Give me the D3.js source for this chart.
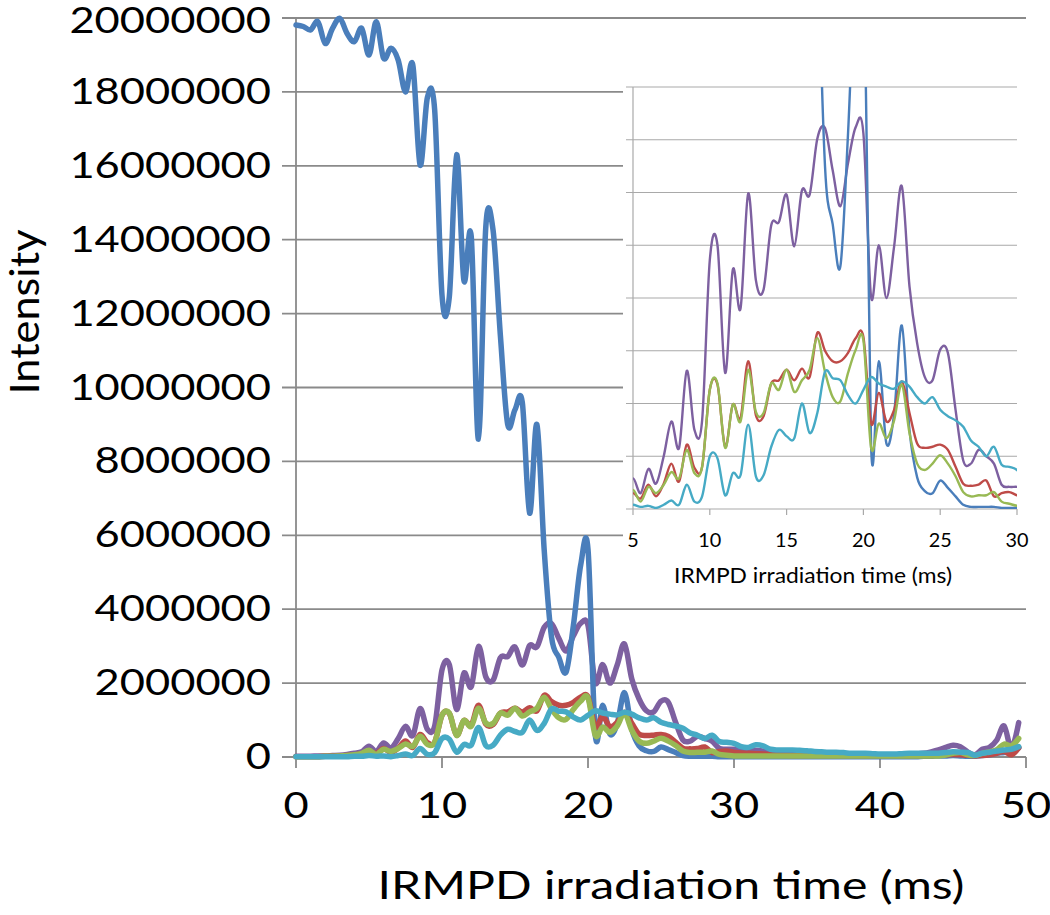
<!DOCTYPE html>
<html>
<head>
<meta charset="utf-8">
<script src="https://cdn.jsdelivr.net/npm/d3@7"></script>
<style>
  body { margin: 0; background: #fff; }
  text { font-family: Lato, "Open Sans", sans-serif; fill: #000; }
</style>
</head>
<body>
<div id="chart"></div>
<script>
// irradiation time (ms), one sample every 0.5 ms
const times = [
  0, 0.5, 1, 1.5, 2, 2.5, 3, 3.5, 4, 4.5,
  5, 5.5, 6, 6.5, 7, 7.5, 8, 8.5, 9, 9.5,
  10, 10.5, 11, 11.5, 12, 12.5, 13, 13.5, 14, 14.5,
  15, 15.5, 16, 16.5, 17, 17.5, 18, 18.5, 19, 19.5,
  20, 20.5, 21, 21.5, 22, 22.5, 23, 23.5, 24, 24.5,
  25, 25.5, 26, 26.5, 27, 27.5, 28, 28.5, 29, 29.5,
  30, 30.5, 31, 31.5, 32, 32.5, 33, 33.5, 34, 34.5,
  35, 35.5, 36, 36.5, 37, 37.5, 38, 38.5, 39, 39.5,
  40, 40.5, 41, 41.5, 42, 42.5, 43, 43.5, 44, 44.5,
  45, 45.5, 46, 46.5, 47, 47.5, 48, 48.5, 49, 49.5
];

// intensities, in millions
const blueSeries = [
  19.81, 19.77, 19.68, 19.90, 19.31, 19.72, 19.99, 19.58, 19.36, 19.72,
  19.00, 19.90, 18.91, 19.18, 18.86, 18.00, 18.73, 16.02, 17.85, 17.50,
  12.50, 12.45, 16.30, 12.90, 14.10, 8.60, 14.35, 14.25, 11.40, 9.00,
  9.40, 9.60, 6.60, 9.00, 5.60, 3.25, 2.70, 2.30, 3.56, 5.20,
  5.62, 0.60, 1.40, 0.62, 0.90, 1.74, 0.75, 0.30, 0.17, 0.15,
  0.27, 0.20, 0.12, 0.04, 0.02, 0.02, 0.02, 0.02, 0.01, 0.01,
  0.01, 0.01, 0.01, 0.01, 0.01, 0.01, 0.01, 0.01, 0.01, 0.01,
  0.01, 0.01, 0.01, 0.01, 0.01, 0.01, 0.01, 0.01, 0.01, 0.01,
  0.01, 0.01, 0.01, 0.01, 0.01, 0.01, 0.02, 0.02, 0.03, 0.03,
  0.04, 0.03, 0.02, 0.02, 0.04, 0.06, 0.10, 0.12, 0.15, 0.25
];
const redSeries = [
  0.01, 0.01, 0.01, 0.01, 0.02, 0.02, 0.03, 0.04, 0.06, 0.09,
  0.15, 0.10, 0.23, 0.12, 0.24, 0.43, 0.26, 0.61, 0.39, 0.40,
  1.13, 1.18, 0.59, 0.99, 0.86, 1.40, 0.89, 0.88, 1.19, 1.22,
  1.32, 1.22, 1.33, 1.25, 1.67, 1.50, 1.40, 1.40, 1.48, 1.62,
  1.63, 0.81, 1.10, 0.83, 0.94, 1.21, 0.91, 0.62, 0.58, 0.59,
  0.61, 0.56, 0.40, 0.24, 0.22, 0.23, 0.27, 0.12, 0.15, 0.16,
  0.13, 0.11, 0.10, 0.09, 0.08, 0.07, 0.06, 0.05, 0.04, 0.04,
  0.04, 0.04, 0.04, 0.04, 0.04, 0.04, 0.04, 0.04, 0.04, 0.04,
  0.04, 0.04, 0.04, 0.04, 0.04, 0.04, 0.04, 0.04, 0.05, 0.06,
  0.07, 0.06, 0.05, 0.03, 0.04, 0.06, 0.10, 0.15, 0.06, 0.25
];
const greenSeries = [
  0.01, 0.01, 0.01, 0.01, 0.02, 0.02, 0.03, 0.04, 0.06, 0.10,
  0.18, 0.07, 0.21, 0.15, 0.23, 0.35, 0.29, 0.56, 0.34, 0.40,
  1.13, 1.19, 0.58, 0.99, 0.83, 1.32, 0.92, 0.91, 1.19, 1.13,
  1.32, 1.11, 1.22, 1.32, 1.62, 1.30, 1.06, 1.02, 1.29, 1.51,
  1.60, 0.58, 0.81, 0.67, 0.84, 1.18, 0.72, 0.43, 0.37, 0.43,
  0.51, 0.43, 0.31, 0.16, 0.12, 0.13, 0.13, 0.16, 0.07, 0.05,
  0.03, 0.03, 0.03, 0.03, 0.03, 0.03, 0.03, 0.03, 0.03, 0.03,
  0.03, 0.03, 0.03, 0.03, 0.03, 0.03, 0.03, 0.03, 0.03, 0.03,
  0.03, 0.03, 0.03, 0.03, 0.03, 0.03, 0.03, 0.03, 0.03, 0.05,
  0.10, 0.12, 0.06, 0.04, 0.10, 0.14, 0.20, 0.35, 0.30, 0.50
];
const purpleSeries = [
  0.02, 0.02, 0.02, 0.03, 0.03, 0.04, 0.05, 0.07, 0.10, 0.14,
  0.29, 0.15, 0.38, 0.24, 0.50, 0.83, 0.58, 1.31, 0.75, 0.84,
  2.36, 2.50, 1.29, 2.27, 1.90, 2.99, 2.17, 2.08, 2.69, 2.72,
  2.98, 2.49, 3.02, 2.98, 3.51, 3.61, 3.21, 2.87, 3.28, 3.62,
  3.56, 2.01, 2.50, 2.00, 2.49, 3.06, 2.11, 1.57, 1.25, 1.22,
  1.51, 1.48, 0.94, 0.46, 0.43, 0.56, 0.50, 0.43, 0.23, 0.21,
  0.21, 0.20, 0.19, 0.18, 0.16, 0.14, 0.12, 0.11, 0.10, 0.09,
  0.08, 0.07, 0.06, 0.05, 0.05, 0.05, 0.05, 0.04, 0.04, 0.05,
  0.05, 0.05, 0.05, 0.06, 0.07, 0.08, 0.10, 0.14, 0.19, 0.26,
  0.32, 0.28, 0.14, 0.06, 0.21, 0.26, 0.46, 0.84, 0.23, 0.93
];
const cyanSeries = [
  0.01, 0.01, 0.01, 0.01, 0.01, 0.01, 0.01, 0.01, 0.02, 0.02,
  0.04, 0.02, 0.03, 0.01, 0.04, 0.08, 0.04, 0.23, 0.07, 0.12,
  0.50, 0.48, 0.13, 0.34, 0.32, 0.80, 0.31, 0.32, 0.59, 0.75,
  0.69, 0.67, 1.00, 0.72, 0.91, 1.30, 1.24, 1.22, 1.08, 1.00,
  1.13, 1.25, 1.19, 1.16, 1.14, 1.21, 1.16, 1.06, 1.00, 1.06,
  0.94, 0.88, 0.84, 0.78, 0.65, 0.59, 0.50, 0.59, 0.42, 0.40,
  0.37, 0.28, 0.26, 0.33, 0.30, 0.21, 0.19, 0.19, 0.19, 0.18,
  0.17, 0.15, 0.14, 0.13, 0.13, 0.12, 0.10, 0.10, 0.10, 0.09,
  0.08, 0.08, 0.08, 0.09, 0.10, 0.10, 0.10, 0.10, 0.10, 0.12,
  0.14, 0.13, 0.12, 0.05, 0.10, 0.13, 0.16, 0.19, 0.21, 0.28
];

const yTickValues = [0, 2000000, 4000000, 6000000, 8000000, 10000000,
  12000000, 14000000, 16000000, 18000000, 20000000];
const xTickValues = [0, 10, 20, 30, 40, 50];
const insetXTicks = [5, 10, 15, 20, 25, 30];
const insetYGrid = [0, 500000, 1000000, 1500000, 2000000, 2500000, 3000000, 3500000, 4000000];

const xTitle = "IRMPD irradiation time (ms)";
const yTitle = "Intensity";

// drawing order: later ones sit on top
const series = [
  { values: purpleSeries, color: "#7d60a0" },
  { values: blueSeries, color: "#4a7ebb" },
  { values: redSeries, color: "#be4b48" },
  { values: greenSeries, color: "#98b954" },
  { values: cyanSeries, color: "#46aac5" }
];

const width = 1050, height = 915;
const svg = d3.select("#chart").append("svg")
  .attr("width", width)
  .attr("height", height);

// ---- main chart ----
const x = d3.scaleLinear().domain([0, 50]).range([296, 1026]);
const y = d3.scaleLinear().domain([0, 20000000]).range([757, 18]);

// gridlines plus the little ticks left of the axis
svg.append("g")
  .selectAll("line")
  .data(yTickValues)
  .enter()
  .append("line")
  .attr("x1", 282)
  .attr("x2", x(50))
  .attr("y1", d => y(d))
  .attr("y2", d => y(d))
  .attr("stroke", "#8a8a8a")
  .attr("stroke-width", 1.8);

svg.append("line")
  .attr("x1", x(0)).attr("x2", x(0))
  .attr("y1", y(20000000)).attr("y2", y(0))
  .attr("stroke", "#8a8a8a")
  .attr("stroke-width", 1.8);

svg.append("g")
  .selectAll("line")
  .data(xTickValues)
  .enter()
  .append("line")
  .attr("x1", d => x(d)).attr("x2", d => x(d))
  .attr("y1", y(0)).attr("y2", y(0) + 11)
  .attr("stroke", "#8a8a8a")
  .attr("stroke-width", 1.8);

// y tick labels (the original is a bit stretched sideways, hence textLength)
svg.append("g")
  .selectAll("text")
  .data(yTickValues)
  .enter()
  .append("text")
  .attr("x", 271)
  .attr("y", d => Math.max(y(d) + 12, 33))
  .attr("text-anchor", "end")
  .attr("font-size", 36)
  .attr("textLength", d => String(d).length * 25.2)
  .attr("lengthAdjust", "spacingAndGlyphs")
  .text(d => d);

svg.append("g")
  .selectAll("text")
  .data(xTickValues)
  .enter()
  .append("text")
  .attr("x", d => x(d))
  .attr("y", 818)
  .attr("text-anchor", "middle")
  .attr("font-size", 37)
  .attr("textLength", d => String(d).length * 25.2)
  .attr("lengthAdjust", "spacingAndGlyphs")
  .text(d => d);

svg.append("text")
  .attr("x", 671)
  .attr("y", 899)
  .attr("text-anchor", "middle")
  .attr("font-size", 38)
  .attr("textLength", 587)
  .attr("lengthAdjust", "spacingAndGlyphs")
  .text(xTitle);

svg.append("text")
  .attr("transform", "translate(39,312) rotate(-90)")
  .attr("text-anchor", "middle")
  .attr("font-size", 40)
  .attr("textLength", 165)
  .attr("lengthAdjust", "spacingAndGlyphs")
  .text(yTitle);

// Excel-like smoothing: uniform Catmull-Rom through every sample
const mainLine = d3.line()
  .x((d, i) => x(times[i]))
  .y(d => y(d * 1e6))
  .curve(d3.curveCatmullRom.alpha(0));

svg.append("g")
  .selectAll("path")
  .data(series)
  .enter()
  .append("path")
  .attr("d", d => mainLine(d.values))
  .attr("fill", "none")
  .attr("stroke", d => d.color)
  .attr("stroke-width", 5.5)
  .attr("stroke-linejoin", "round")
  .attr("stroke-linecap", "round");

// ---- inset (5-30 ms, zoomed intensity) ----
const ix = d3.scaleLinear().domain([5, 30]).range([633, 1017]);
const iy = d3.scaleLinear().domain([0, 4000000]).range([509, 87]);

const inset = svg.append("g");

inset.append("rect")
  .attr("x", 623).attr("y", 62)
  .attr("width", 427).attr("height", 538)
  .attr("fill", "#fff");

inset.append("g")
  .selectAll("line")
  .data(insetYGrid)
  .enter()
  .append("line")
  .attr("x1", 626)
  .attr("x2", ix(30))
  .attr("y1", d => iy(d))
  .attr("y2", d => iy(d))
  .attr("stroke", "#a9a9a9")
  .attr("stroke-width", 1.2);

inset.append("line")
  .attr("x1", ix(5)).attr("x2", ix(5))
  .attr("y1", iy(4000000)).attr("y2", iy(0))
  .attr("stroke", "#a9a9a9")
  .attr("stroke-width", 1.2);

inset.append("g")
  .selectAll("line")
  .data(insetXTicks)
  .enter()
  .append("line")
  .attr("x1", d => ix(d)).attr("x2", d => ix(d))
  .attr("y1", iy(0)).attr("y2", iy(0) + 6)
  .attr("stroke", "#a9a9a9")
  .attr("stroke-width", 1.2);

inset.append("g")
  .selectAll("text")
  .data(insetXTicks)
  .enter()
  .append("text")
  .attr("x", d => ix(d))
  .attr("y", 547)
  .attr("text-anchor", "middle")
  .attr("font-size", 20)
  .attr("textLength", d => String(d).length * 11.5)
  .attr("lengthAdjust", "spacingAndGlyphs")
  .text(d => d);

inset.append("text")
  .attr("x", 813)
  .attr("y", 583)
  .attr("text-anchor", "middle")
  .attr("font-size", 21)
  .attr("textLength", 278)
  .attr("lengthAdjust", "spacingAndGlyphs")
  .text(xTitle);

svg.append("clipPath")
  .attr("id", "insetClip")
  .append("rect")
  .attr("x", ix(5)).attr("y", iy(4000000))
  .attr("width", ix(30) - ix(5))
  .attr("height", iy(0) - iy(4000000));

const insetLine = d3.line()
  .x((d, i) => ix(times[i]))
  .y(d => iy(d * 1e6))
  .curve(d3.curveCatmullRom.alpha(0));

inset.append("g")
  .attr("clip-path", "url(#insetClip)")
  .selectAll("path")
  .data(series)
  .enter()
  .append("path")
  .attr("d", d => insetLine(d.values))
  .attr("fill", "none")
  .attr("stroke", d => d.color)
  .attr("stroke-width", 2.4)
  .attr("stroke-linejoin", "round");
</script>
</body>
</html>
